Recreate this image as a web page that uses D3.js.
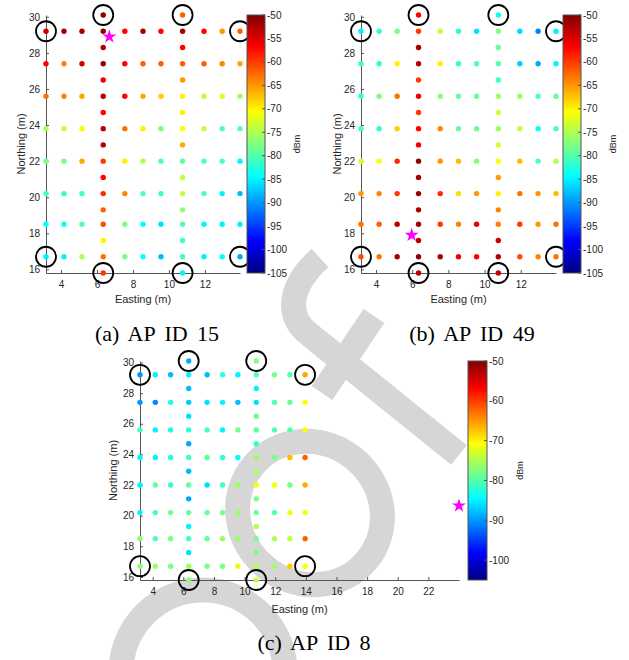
<!DOCTYPE html>
<html>
<head>
<meta charset="utf-8" />
<title>AP RSSI maps</title>
<style>
  body { margin: 0; background: #fff; }
  svg text { font-family: "Liberation Sans", Arial, Helvetica, sans-serif; }
</style>
</head>
<body>
<script src="https://d3js.org/d3.v7.min.js"></script>
<script>
// survey grid (metres)
var eastings = [3.17, 4.17, 5.17, 6.35, 7.55, 8.56, 9.56, 10.76, 11.95, 12.96, 13.95];
var rowNorthings = [29.2, 27.4, 25.6, 23.8, 22.0, 20.2, 18.5, 16.7];
var midEastings = [6.35, 10.76];
var midNorthings = [30.1, 28.3, 26.5, 24.7, 22.9, 21.1, 19.3, 17.6, 15.8];
var ringSpots = [[3.17, 29.2], [13.95, 29.2], [3.17, 16.7], [13.95, 16.7],
                 [6.35, 30.1], [10.76, 30.1], [6.35, 15.8], [10.76, 15.8]];

var yTicks = [16, 18, 20, 22, 24, 26, 28, 30];
var xTicksShort = [4, 6, 8, 10, 12];
var xTicksLong = [4, 6, 8, 10, 12, 14, 16, 18, 20, 22];
var cbTicksFine = [-50, -55, -60, -65, -70, -75, -80, -85, -90, -95, -100, -105];
var cbTicksCoarse = [-50, -60, -70, -80, -90, -100];
var dbmRange = [-105, -50];

// AP 15 (dBm), rows north -> south
var rows15 = [
  [-54, -52, -52, -51, -57, -52, -57, -52, -57, -65, -62],
  [-57, -64, -54, -51, -57, -62, -62, -62, -62, -64, -66],
  [-63, -64, -66, -53, -57, -66, -68, -70, -74, -73, -76],
  [-75, -74, -71, -53, -63, -70, -78, -71, -74, -80, -80],
  [-78, -78, -66, -60, -70, -75, -80, -79, -80, -80, -85],
  [-81, -82, -81, -59, -64, -80, -81, -74, -80, -85, -88],
  [-84, -84, -80, -61, -78, -84, -86, -80, -85, -85, -85],
  [-85, -85, -75, -63, -78, -84, -88, -81, -85, -84, -89]
];
var mids15 = [
  [-51, -52, -56, -57, -53, -57, -62, -70, -60],
  [-62, -57, -65, -70, -66, -74, -77, -81, -85]
];
var ap15 = [6.69, 28.9];

// AP 49
var rows49 = [
  [-85, -82, -78, -60, -74, -82, -86, -77, -86, -91, -85],
  [-81, -82, -70, -53, -70, -82, -80, -80, -87, -89, -85],
  [-82, -78, -63, -56, -77, -79, -79, -76, -76, -80, -79],
  [-81, -82, -68, -57, -64, -79, -79, -76, -74, -84, -80],
  [-73, -71, -59, -51, -65, -67, -77, -71, -67, -80, -75],
  [-65, -64, -60, -51, -59, -69, -65, -70, -63, -65, -67],
  [-63, -62, -53, -52, -60, -64, -56, -64, -60, -65, -63],
  [-61, -63, -52, -51, -52, -56, -57, -53, -61, -64, -63]
];
var mids49 = [
  [-57, -52, -60, -60, -56, -52, -52, -53, -53],
  [-84, -79, -81, -73, -73, -65, -64, -54, -54]
];
var ap49 = [5.97, 17.9];

// AP 8
var rows8 = [
  [-90, -85, -88, -85, -88, -82, -85, -80, -78, -80, -66],
  [-90, -91, -83, -87, -86, -85, -88, -86, -80, -79, -71],
  [-81, -85, -83, -82, -80, -85, -78, -79, -80, -80, -71],
  [-85, -85, -83, -81, -79, -82, -84, -76, -78, -67, -62],
  [-85, -79, -82, -79, -86, -81, -76, -71, -71, -78, -66],
  [-85, -81, -78, -79, -79, -78, -76, -79, -80, -71, -71],
  [-77, -80, -78, -81, -79, -76, -76, -78, -75, -74, -62],
  [-77, -76, -78, -76, -78, -78, -72, -75, -76, -68, -71]
];
var mids8 = [
  [-89, -88, -86, -89, -88, -89, -85, -86, -77],
  [-78, -85, -79, -82, -75, -78, -75, -78, -74]
];
var ap8 = [24.0, 20.65];

function buildPoints(rows, mids) {
  var pts = [];
  rows.forEach(function(row, i) {
    row.forEach(function(v, j) {
      if (midEastings.indexOf(eastings[j]) >= 0) return;
      pts.push({e: eastings[j], n: rowNorthings[i], v: v});
    });
  });
  mids.forEach(function(col, k) {
    col.forEach(function(v, i) {
      pts.push({e: midEastings[k], n: midNorthings[i], v: v});
    });
    // row values on the mid columns
    rows.forEach(function(row, i) {
      pts.push({e: midEastings[k], n: rowNorthings[i], v: row[eastings.indexOf(midEastings[k])]});
    });
  });
  return pts;
}

// MATLAB jet
var toT = d3.scaleLinear().domain(dbmRange).range([0, 1]).clamp(true);
function jet(v) {
  var t = toT(v);
  function c(a) { return Math.max(0, Math.min(1, 1.5 - Math.abs(4 * t - a))); }
  return d3.rgb(c(3) * 255, c(2) * 255, c(1) * 255).formatHex();
}

var svg = d3.select("body").append("svg")
  .attr("width", 629).attr("height", 660)
  .style("background", "#fff");

var defs = svg.append("defs");

// grey "proof" watermark behind the plots
var wm = svg.append("g").attr("fill", "none").attr("stroke", "#d6d6d6").attr("stroke-width", 25);
wm.append("path").attr("d", "M320,258 C290,285 284,316 310,335 L459,455");
wm.append("path").attr("d", "M322,393 L374,316");
wm.append("ellipse").attr("cx", 310).attr("cy", 513).attr("rx", 74).attr("ry", 70)
  .attr("transform", "rotate(40,310,513)");
wm.append("circle").attr("cx", 203).attr("cy", 672).attr("r", 82);

var panels = [
  {id: "a", rows: rows15, mids: mids15, ap: ap15, caption: "(a) AP ID 15", xMax: 13.95, xTicks: xTicksShort,
   left: 46, right: 240, top: 15, bottom: 273, cbX: 247, cbW: 18, cbTicks: cbTicksFine,
   capX: 157, capY: 341, northX: 25, eastY: 303, dbmX: 300},
  {id: "b", rows: rows49, mids: mids49, ap: ap49, caption: "(b) AP ID 49", xMax: 13.95, xTicks: xTicksShort,
   left: 361, right: 556, top: 15, bottom: 273, cbX: 563, cbW: 18, cbTicks: cbTicksFine,
   capX: 472, capY: 341, northX: 341, eastY: 303, dbmX: 616},
  {id: "c", rows: rows8, mids: mids8, ap: ap8, caption: "(c) AP ID 8", xMax: 24.0, xTicks: xTicksLong,
   left: 140, right: 459, top: 361, bottom: 580, cbX: 468, cbW: 19, cbTicks: cbTicksCoarse,
   capX: 314, capY: 650, northX: 117, eastY: 613, dbmX: 523}
];

function styleAxis(g) {
  g.select(".domain").attr("stroke", "#555").attr("stroke-width", 1);
  g.selectAll(".tick line").attr("stroke", "#555");
  g.selectAll(".tick text").attr("fill", "#262626")
    .style("font-size", "10px").style("font-family", "'Liberation Sans', Arial, sans-serif");
}

panels.forEach(function(p) {
  var x = d3.scaleLinear().domain([eastings[0], p.xMax]).range([p.left, p.right]);
  var y = d3.scaleLinear().domain(d3.extent(midNorthings)).range([p.bottom, p.top]);
  var g = svg.append("g");

  g.append("g").attr("transform", "translate(0," + p.bottom + ")")
    .call(d3.axisBottom(x).tickValues(p.xTicks).tickSizeInner(-3).tickSizeOuter(0).tickPadding(8))
    .call(styleAxis);
  g.append("g").attr("transform", "translate(" + p.left + ",0)")
    .call(d3.axisLeft(y).tickValues(yTicks).tickSizeInner(-3).tickSizeOuter(0).tickPadding(6))
    .call(styleAxis);

  g.append("text").attr("x", (p.left + p.right) / 2).attr("y", p.eastY)
    .attr("text-anchor", "middle").attr("fill", "#262626").style("font-size", "11px")
    .text("Easting (m)");
  g.append("text").attr("transform", "translate(" + p.northX + "," + ((p.top + p.bottom) / 2) + ") rotate(-90)")
    .attr("text-anchor", "middle").attr("fill", "#262626").style("font-size", "11px")
    .text("Northing (m)");

  g.append("g").selectAll("circle")
    .data(buildPoints(p.rows, p.mids))
    .enter().append("circle")
    .attr("cx", d => x(d.e))
    .attr("cy", d => y(d.n))
    .attr("r", 2.7)
    .attr("fill", d => jet(d.v));

  g.append("g").selectAll("circle")
    .data(ringSpots)
    .enter().append("circle")
    .attr("cx", d => x(d[0]))
    .attr("cy", d => y(d[1]))
    .attr("r", 10)
    .attr("fill", "none")
    .attr("stroke", "#000")
    .attr("stroke-width", 1.8);

  g.append("path")
    .attr("d", d3.symbol(d3.symbolStar).size(60)())
    .attr("transform", "translate(" + x(p.ap[0]) + "," + y(p.ap[1]) + ")")
    .attr("fill", "#ff00ff");

  // colorbar
  var grad = defs.append("linearGradient").attr("id", "jet-" + p.id)
    .attr("x1", 0).attr("y1", 1).attr("x2", 0).attr("y2", 0);
  d3.range(0, 65).forEach(function(i) {
    var v = dbmRange[0] + (dbmRange[1] - dbmRange[0]) * i / 64;
    grad.append("stop").attr("offset", (i / 64 * 100) + "%").attr("stop-color", jet(v));
  });
  var cy = d3.scaleLinear().domain(dbmRange).range([p.bottom, p.top]);
  var cbR = p.cbX + p.cbW;
  g.append("rect").attr("x", p.cbX).attr("y", p.top).attr("width", p.cbW).attr("height", p.bottom - p.top)
    .attr("fill", "url(#jet-" + p.id + ")").attr("stroke", "#555").attr("stroke-width", 1);
  var cbt = g.append("g").selectAll("g").data(p.cbTicks).enter().append("g")
    .attr("transform", d => "translate(0," + cy(d) + ")");
  cbt.append("line").attr("x1", cbR - 3).attr("x2", cbR).attr("stroke", "#555");
  cbt.append("text").attr("x", cbR + 2).attr("dy", "0.35em")
    .attr("fill", "#262626").style("font-size", "10px")
    .text(d => d);
  g.append("text").attr("transform", "translate(" + p.dbmX + "," + ((p.top + p.bottom) / 2) + ") rotate(-90)")
    .attr("text-anchor", "middle").attr("fill", "#262626").style("font-size", "9px")
    .text("dBm");

  g.append("text").attr("x", p.capX).attr("y", p.capY)
    .attr("text-anchor", "middle")
    .style("font-family", "'Liberation Serif', 'Times New Roman', serif")
    .style("font-size", "22px").style("word-spacing", "4px")
    .attr("fill", "#000")
    .text(p.caption);
});
</script>
</body>
</html>
